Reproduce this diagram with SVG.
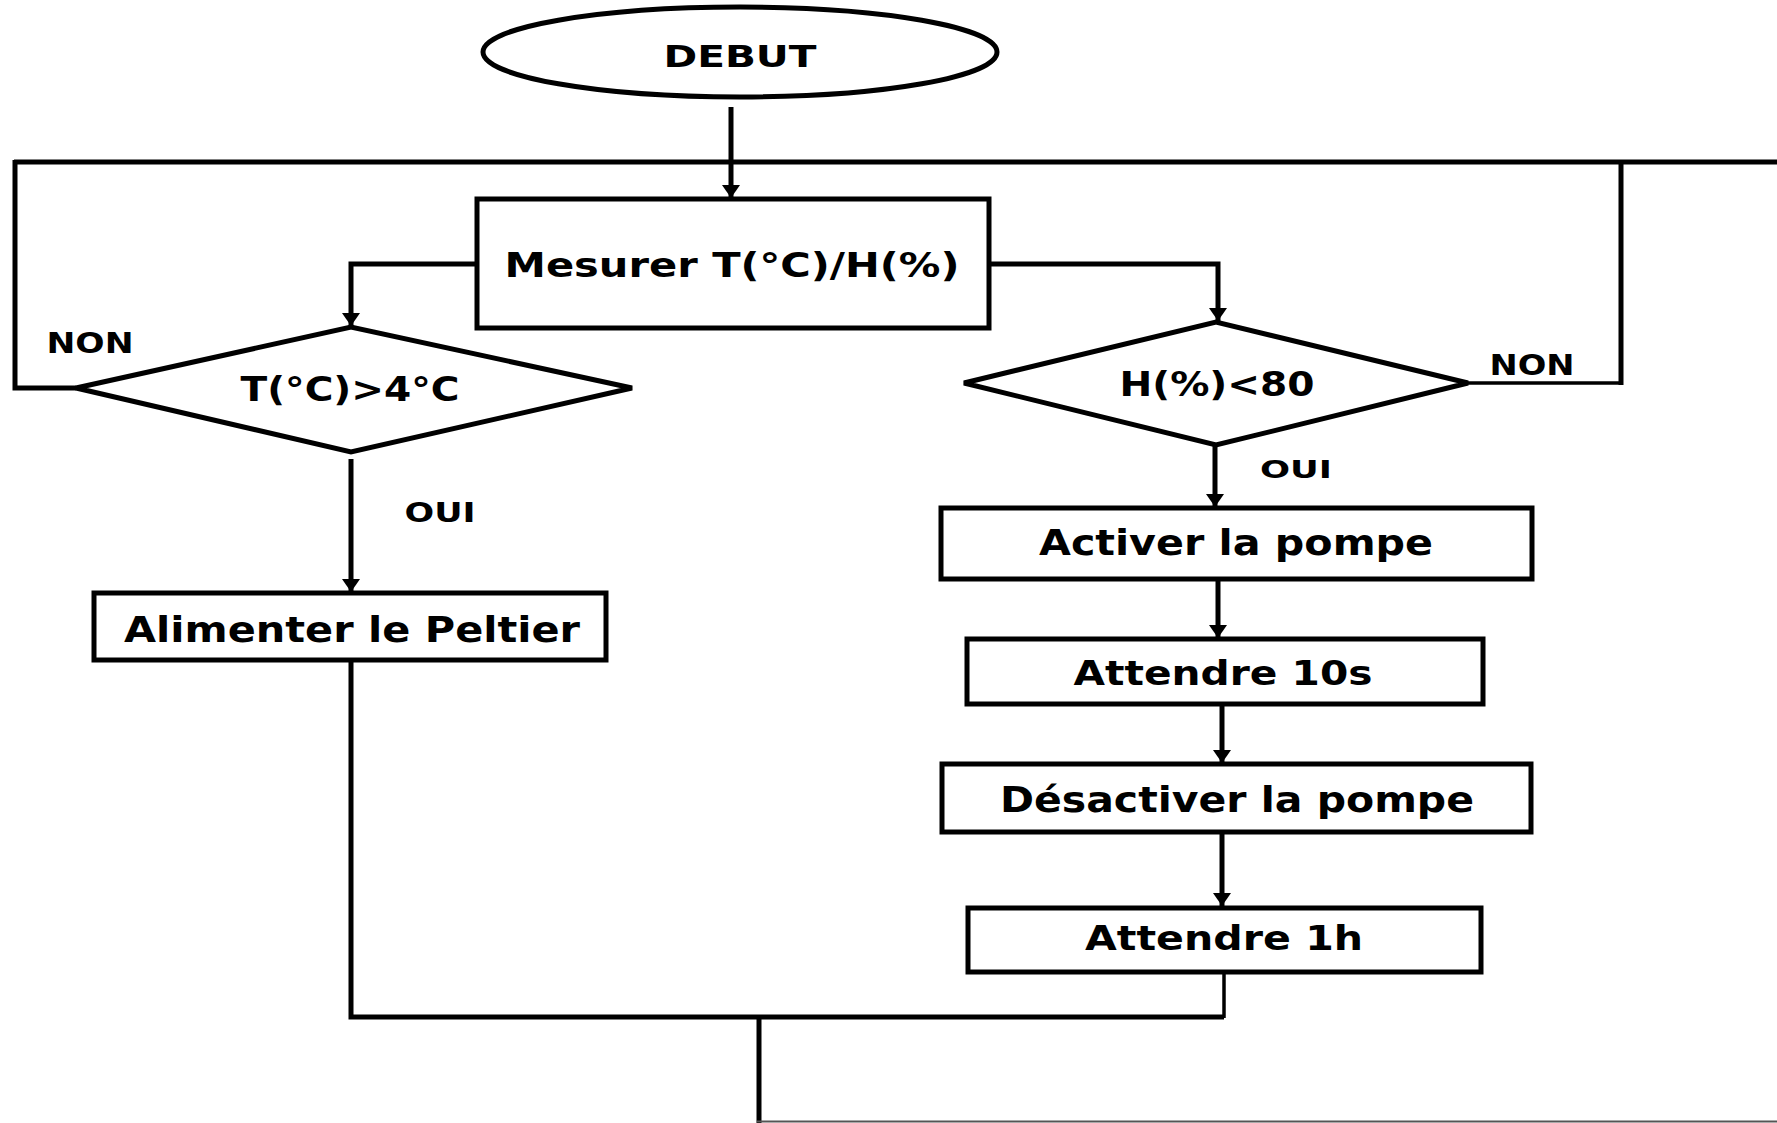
<svg xmlns="http://www.w3.org/2000/svg" width="1777" height="1123" viewBox="0 0 1777 1123">
<style>
.shape{fill:#fff;stroke:#000;stroke-width:5}
.ln{fill:none;stroke:#000;stroke-width:5;stroke-linejoin:miter}
.thin{fill:none;stroke:#000;stroke-width:3.5}
.t{font-family:"DejaVu Sans","Liberation Sans",sans-serif;font-weight:bold;fill:#000;text-anchor:middle}
</style>
<defs>
<marker id="arr" markerUnits="userSpaceOnUse" markerWidth="13" markerHeight="18" viewBox="0 0 13 18" refX="13" refY="9" orient="auto">
<path d="M0,0 L13,9 L0,18 z" fill="#000"/>
</marker>
</defs>
<rect width="1777" height="1123" fill="#fff"/>
<g id="connectors">
<path class="ln" d="M731,107 V198" marker-end="url(#arr)"/>
<path class="ln" d="M14,162 H1777"/>
<path class="ln" d="M76,388 H15 V160"/>
<path class="thin" d="M1468,383 H1621"/>
<path class="ln" d="M1621,385 V160"/>
<path class="ln" d="M477,264 H351 V326" marker-end="url(#arr)"/>
<path class="ln" d="M989,264 H1218 V321" marker-end="url(#arr)"/>
<path class="ln" d="M351,459 V592" marker-end="url(#arr)"/>
<path class="ln" d="M1215,445 V507" marker-end="url(#arr)"/>
<path class="ln" d="M1218,579 V638" marker-end="url(#arr)"/>
<path class="ln" d="M1222,704 V763" marker-end="url(#arr)"/>
<path class="ln" d="M1222,828 V906" marker-end="url(#arr)"/>
<path class="ln" d="M351,660 V1017 H1224"/>
<path class="thin" d="M1224,972 V1018"/>
<path class="ln" d="M759,1015 V1123"/>
<path d="M757,1121.5 H1777" stroke="#555" stroke-width="2" fill="none"/>
</g>
<g id="debut">
<ellipse class="shape" cx="740" cy="52" rx="257" ry="45"/>
<text class="t" x="740" y="67" font-size="31" textLength="153" lengthAdjust="spacingAndGlyphs">DEBUT</text>
</g>
<g id="mesurer">
<rect class="shape" x="477" y="199" width="512" height="129"/>
<text class="t" x="732" y="277" font-size="34" textLength="455" lengthAdjust="spacingAndGlyphs">Mesurer T(°C)/H(%)</text>
</g>
<g id="cond-temp">
<polygon class="shape" points="76,388 351,327 632,388 351,452"/>
<text class="t" x="350" y="401" font-size="33" textLength="219" lengthAdjust="spacingAndGlyphs">T(°C)&gt;4°C</text>
</g>
<g id="cond-hum">
<polygon class="shape" points="964,383 1216,322 1468,383 1216,445"/>
<text class="t" x="1217" y="396" font-size="33" textLength="195" lengthAdjust="spacingAndGlyphs">H(%)&lt;80</text>
</g>
<g id="labels">
<text class="t" x="90" y="353" font-size="28" textLength="87" lengthAdjust="spacingAndGlyphs">NON</text>
<text class="t" x="1532" y="375" font-size="28" textLength="85" lengthAdjust="spacingAndGlyphs">NON</text>
<text class="t" x="440" y="522" font-size="26" textLength="71" lengthAdjust="spacingAndGlyphs">OUI</text>
<text class="t" x="1296" y="478" font-size="25" textLength="72" lengthAdjust="spacingAndGlyphs">OUI</text>
</g>
<g id="alimenter">
<rect class="shape" x="94" y="593" width="512" height="67"/>
<text class="t" x="352" y="642" font-size="35" textLength="456" lengthAdjust="spacingAndGlyphs">Alimenter le Peltier</text>
</g>
<g id="activer">
<rect class="shape" x="941" y="508" width="591" height="71"/>
<text class="t" x="1236" y="555" font-size="36" textLength="394" lengthAdjust="spacingAndGlyphs">Activer la pompe</text>
</g>
<g id="attendre10s">
<rect class="shape" x="967" y="639" width="516" height="65"/>
<text class="t" x="1223" y="685" font-size="34" textLength="299" lengthAdjust="spacingAndGlyphs">Attendre 10s</text>
</g>
<g id="desactiver">
<rect class="shape" x="942" y="764" width="589" height="68"/>
<text class="t" x="1237" y="812" font-size="35" textLength="474" lengthAdjust="spacingAndGlyphs">Désactiver la pompe</text>
</g>
<g id="attendre1h">
<rect class="shape" x="968" y="908" width="513" height="64"/>
<text class="t" x="1224" y="950" font-size="34" textLength="278" lengthAdjust="spacingAndGlyphs">Attendre 1h</text>
</g>
</svg>
